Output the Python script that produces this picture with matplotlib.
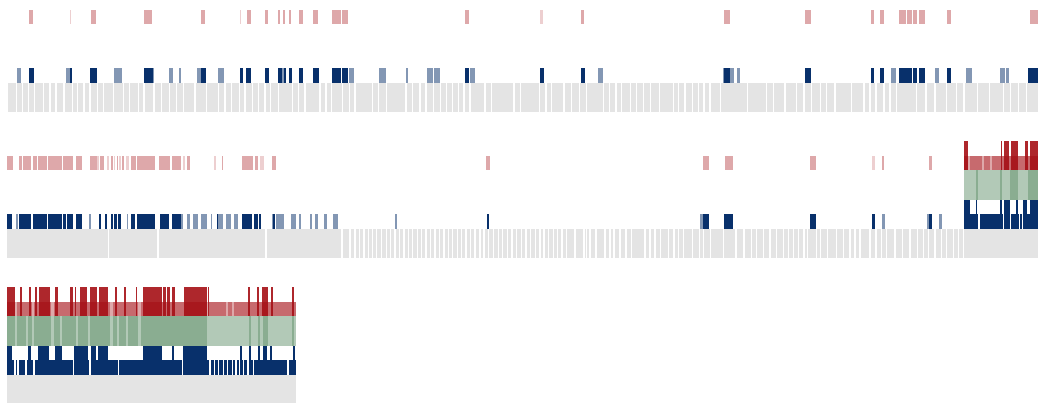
import matplotlib
matplotlib.use("Agg")
import matplotlib.pyplot as plt

# ---------------------------------------------------------------------------
# Wrapped feature tracks: three lines of sequence, each with four tracks
# (bottom to top): reference blocks (grey), blue marks, green band, red marks.
# Positions are in sequence coordinates along each line.
# ---------------------------------------------------------------------------

RED = "#a50f15"
GREEN = "#2e6e3c"
BLUE = "#08306b"
GREY = "#e4e4e4"

# ---- line 1 -------------------------------------------------------------
line1_span = (8.3, 1038.3)
line1_grey_breaks = [
    16.7, 22.7, 28.7, 34.7, 43.3, 50.0, 56.0, 64.0, 72.7, 77.7, 84.0, 90.0,
    97.3, 103.3, 113.3, 123.3, 129.3, 138.3, 144.0, 154.0, 161.7, 169.3,
    176.7, 183.3, 195.0, 206.7, 218.3, 225.0, 231.7, 239.3, 245.0, 252.7,
    258.3, 265.0, 270.7, 278.3, 292.7, 298.3, 305.0, 320.0, 326.0, 331.7,
    342.7, 349.3, 355.0, 372.3, 378.3, 386.7, 406.0, 412.7, 420.0, 426.0,
    433.3, 440.7, 446.7, 452.7, 458.3, 464.0, 470.0, 485.0, 491.7, 514.0,
    520.7, 539.3, 546.0, 551.7, 564.0, 571.7, 579.3, 586.7, 603.3, 609.3,
    616.0, 621.7, 630.7, 636.7, 643.3, 650.7, 659.3, 673.3, 678.3, 685.0,
    692.7, 698.3, 704.0, 710.0, 720.7, 747.3, 766.7, 773.3, 785.0, 796.7,
    804.0, 811.7, 820.7, 826.7, 835.0, 851.7, 864.0, 870.0, 876.0, 884.0,
    890.0, 896.7, 916.7, 926.0, 935.0, 946.7, 956.7, 964.0, 977.3, 989.3,
    1003.3, 1010.7, 1018.3, 1026.7,
]
line1_red = [
    (29.3, 33.3), (90.7, 96.0), (144.3, 151.7), (201.3, 205.0),
    (246.7, 250.7), (265.0, 267.7), (278.3, 280.0), (282.7, 285.3),
    (288.7, 291.3), (299.0, 302.7), (313.3, 318.3), (332.3, 341.0),
    (342.3, 348.3), (464.7, 468.7), (580.7, 584.0), (724.0, 730.0),
    (805.3, 811.3), (871.0, 873.7), (879.7, 884.0), (898.7, 906.0),
    (907.0, 912.0), (913.0, 916.7), (919.0, 925.0), (946.7, 950.7),
    (1029.7, 1038.3),
]
line1_red_pale = [(70.0, 71.3), (240.0, 241.3), (540.0, 543.3)]
line1_blue_dark = [
    (29.3, 34.0), (70.0, 72.0), (90.3, 96.7), (144.3, 152.7), (201.3, 205.7),
    (240.0, 242.7), (246.3, 250.7), (265.0, 268.7), (278.3, 281.7),
    (284.0, 286.0), (288.7, 291.7), (299.0, 303.3), (313.3, 319.0),
    (332.3, 341.0), (342.3, 348.3), (464.7, 469.0), (540.0, 544.0),
    (581.0, 585.0), (724.3, 730.0), (805.3, 811.3), (871.0, 874.0),
    (879.7, 884.0), (898.7, 906.7), (907.0, 912.3), (913.0, 917.3),
    (919.0, 925.0), (946.7, 951.0), (1028.3, 1038.3),
]
line1_blue_light = [
    (17.3, 20.7), (66.0, 70.7), (114.0, 122.3), (152.7, 154.0), (169.3, 173.3),
    (179.0, 181.0), (197.3, 201.3), (218.3, 224.3), (281.7, 285.3),
    (349.3, 354.0), (379.0, 386.0), (406.0, 408.0), (426.7, 432.7),
    (434.0, 440.0), (470.0, 474.7), (598.3, 603.3), (722.7, 725.0),
    (730.0, 734.3), (736.7, 740.0), (891.0, 896.0), (935.0, 939.3),
    (965.7, 971.7), (1000.3, 1005.0), (1006.3, 1009.3),
]

# ---- line 2 -------------------------------------------------------------
line2_span = (7.3, 1038.3)
line2_grey_breaks = [
    108.5, 158.0, 266.0, 342.0, 350.0, 355.0, 359.3, 364.0, 368.3, 372.3,
    376.7, 381.7, 386.7, 390.7, 395.0, 399.3, 404.0, 408.3, 412.7, 417.3,
    421.7, 426.0, 430.7, 435.0, 439.3, 444.0, 448.3, 452.7, 457.3, 461.7,
    466.0, 470.7, 475.0, 480.0, 484.0, 488.7, 493.3, 498.3, 502.7, 507.3,
    512.0, 516.7, 521.7, 526.0, 530.7, 535.3, 540.0, 544.0, 548.3, 553.3,
    557.3, 562.0, 566.7, 575.0, 584.0, 586.7, 590.0, 596.0, 605.0, 610.0,
    614.0, 620.0, 626.0, 631.7, 645.0, 650.0, 655.0, 660.7, 668.3, 674.0,
    678.3, 683.3, 692.7, 699.3, 703.3, 710.7, 723.3, 736.0, 744.0, 751.7,
    756.7, 763.3, 770.0, 776.7, 783.3, 788.7, 793.3, 798.3, 804.0, 807.3,
    816.7, 820.7, 827.3, 836.7, 843.3, 850.0, 855.0, 860.0, 870.0, 876.0,
    881.7, 886.7, 895.0, 902.7, 910.0, 917.3, 923.3, 928.3, 935.0, 941.7,
    946.7, 953.3, 958.3, 963.3,
]
line2_red = [
    (7.3, 13.3), (19.0, 22.0), (23.3, 30.7), (33.3, 36.7), (38.0, 46.7),
    (48.3, 61.7), (63.3, 66.7), (67.3, 72.7), (76.0, 81.7), (90.0, 96.7),
    (100.0, 104.0), (111.0, 112.7), (116.7, 118.0), (122.3, 124.0),
    (130.7, 136.0), (136.7, 155.0), (159.3, 170.0), (172.0, 181.0),
    (186.7, 190.0), (221.7, 223.0), (242.3, 253.3), (255.0, 258.3),
    (272.3, 275.7), (486.0, 490.0), (703.3, 709.3), (725.0, 732.7),
    (810.0, 815.7), (882.3, 884.0), (929.0, 932.3),
]
line2_red_pale = [
    (97.3, 99.3), (106.7, 109.3), (114.0, 115.3), (119.3, 120.7),
    (126.0, 128.7), (183.3, 185.0), (214.3, 215.7), (260.0, 264.3),
    (872.3, 875.0),
]
line2_blue_dark = [
    (7.3, 12.0), (19.0, 30.7), (33.3, 46.7), (48.3, 61.7), (62.7, 66.0),
    (66.7, 72.7), (76.0, 81.7), (99.3, 100.7), (105.0, 106.7), (111.0, 113.3),
    (114.3, 116.7), (118.3, 120.7), (130.7, 135.0), (136.7, 155.0),
    (160.0, 169.3), (171.7, 181.0), (216.7, 218.3), (241.7, 252.3),
    (254.3, 257.7), (259.3, 260.7), (272.7, 275.0), (486.7, 489.3),
    (703.3, 709.3), (724.3, 733.3), (810.0, 816.0), (872.3, 875.0),
    (929.3, 932.0),
]
line2_blue_light = [
    (16.0, 18.0), (89.3, 90.7), (126.7, 128.3), (181.0, 183.0), (186.7, 190.0),
    (193.3, 198.3), (201.0, 206.7), (211.0, 212.3), (218.3, 223.3),
    (225.7, 231.0), (234.3, 237.7), (271.7, 273.5), (275.7, 284.3),
    (291.0, 295.7), (299.3, 300.7), (310.0, 311.7), (315.0, 318.3),
    (324.3, 326.7), (333.3, 338.3), (395.0, 397.3), (700.0, 703.3),
    (882.3, 885.0), (926.7, 929.3), (939.3, 941.7),
]
# dense stretch at the end of line 2
line2_dense = (964.3, 1038.3)
line2_red_tall = [
    (964.3, 968.3), (1000.7, 1002.3), (1004.3, 1009.0), (1011.0, 1017.7),
    (1025.0, 1027.7), (1030.0, 1038.3),
]
line2_red_double = [(964.3, 968.0), (970.0, 981.5), (983.5, 989.5), (991.5, 1038.3)]
line2_green_double = [(975.7, 977.7), (1000.0, 1001.7), (1010.0, 1018.3), (1028.3, 1038.3)]
line2_blue_tall = [
    (964.3, 970.0), (975.7, 977.0), (1000.0, 1001.7), (1004.3, 1010.0),
    (1016.0, 1018.0), (1023.3, 1026.7), (1030.0, 1038.3),
]
line2_blue_gaps = [(978.3, 980.3), (1003.0, 1004.0), (1010.3, 1011.0), (1018.5, 1020.0), (1022.0, 1023.0)]

# ---- line 3 -------------------------------------------------------------
line3_span = (7.3, 296.0)
line3_grey_breaks = []
line3_red_tall = [
    (7.3, 15.0), (20.0, 21.7), (29.3, 31.0), (35.0, 36.7), (39.3, 50.0),
    (55.0, 58.3), (70.0, 73.3), (74.5, 76.0), (80.0, 87.0), (90.0, 96.7),
    (99.3, 108.0), (115.0, 116.7), (124.0, 126.0), (135.5, 137.0),
    (142.7, 161.7), (162.7, 166.0), (167.3, 170.0), (171.7, 175.0),
    (184.0, 206.7), (208.3, 209.3), (248.3, 250.0), (257.3, 259.3),
    (261.7, 268.3), (270.7, 272.7), (291.7, 294.0),
]
line3_red_double = [
    (7.3, 15.0), (17.0, 32.0), (34.0, 51.0), (54.0, 110.0), (113.0, 138.0),
    (141.0, 207.0), (208.5, 226.0), (228.0, 232.0), (234.0, 296.0),
]
line3_green_double = [
    (7.3, 15.0), (17.0, 26.0), (28.0, 32.0), (34.0, 51.0), (54.0, 60.0),
    (62.0, 76.0), (78.0, 88.0), (90.0, 110.0), (113.0, 117.0), (119.0, 126.0),
    (128.0, 138.0), (141.0, 207.0), (249.0, 251.0), (258.0, 260.0),
    (263.0, 268.0), (291.7, 294.0),
]
line3_blue_tall = [
    (7.3, 11.7), (28.3, 30.7), (38.3, 49.3), (55.0, 61.7), (74.0, 88.3),
    (90.7, 96.0), (98.3, 108.3), (143.3, 161.7), (171.7, 174.0),
    (183.3, 206.7), (240.0, 241.7), (249.3, 250.7), (258.3, 260.0),
    (262.7, 267.3), (270.0, 271.7), (293.3, 295.0),
]
line3_blue_gaps = [
    (14.0, 15.7), (17.3, 19.3), (25.0, 26.7), (33.3, 35.0), (72.7, 74.0),
    (89.3, 90.7), (118.3, 119.3), (143.7, 145.0), (181.7, 182.7),
    (209.3, 210.7), (214.0, 215.0), (218.3, 219.3), (222.7, 223.7),
    (226.7, 228.3), (231.7, 233.3), (235.0, 236.7), (239.3, 240.7),
    (242.7, 244.0), (247.3, 249.0), (252.7, 254.0), (286.7, 289.3),
]

# ---------------------------------------------------------------------------
fig = plt.figure(figsize=(10.41, 4.03), dpi=100)
ax = fig.add_axes([0, 0, 1, 1])
ax.set_xlim(0, 1041)
ax.set_ylim(0.034, 13.836)
ax.axis("off")

LINE_STEP = 5.0          # four tracks plus one empty track between lines
GREY_Y, BLUE_Y, GREEN_Y, RED_Y = 0.0, 1.0, 2.0, 3.0
SHORT = 0.5


def draw(intervals, y0, height, color, alpha=1.0):
    if not intervals:
        return
    ax.broken_barh([(a, b - a) for a, b in intervals], (y0, height),
                   facecolors=color, alpha=alpha, linewidth=0)


def grey_blocks(span, breaks, half_gap=0.65):
    edges = [span[0]] + list(breaks) + [span[1]]
    blocks = []
    for i in range(len(edges) - 1):
        a = edges[i] + (half_gap if i > 0 else 0)
        b = edges[i + 1] - (half_gap if i + 1 < len(edges) - 1 else 0)
        blocks.append((a, b))
    return blocks


def complement(span, gaps):
    out, cur = [], span[0]
    for a, b in sorted(gaps):
        if a > cur:
            out.append((cur, a))
        cur = max(cur, b)
    if cur < span[1]:
        out.append((cur, span[1]))
    return out


lines = [
    dict(base=2 * LINE_STEP, span=line1_span, breaks=line1_grey_breaks,
         red=line1_red, red_pale=line1_red_pale,
         blue_dark=line1_blue_dark, blue_light=line1_blue_light, dense=None),
    dict(base=1 * LINE_STEP, span=line2_span, breaks=line2_grey_breaks,
         red=line2_red, red_pale=line2_red_pale,
         blue_dark=line2_blue_dark, blue_light=line2_blue_light,
         dense=dict(span=line2_dense, red_tall=line2_red_tall,
                    red_double=line2_red_double, green_double=line2_green_double,
                    blue_tall=line2_blue_tall, blue_gaps=line2_blue_gaps)),
    dict(base=0.0, span=line3_span, breaks=line3_grey_breaks,
         red=[], red_pale=[], blue_dark=[], blue_light=[],
         dense=dict(span=line3_span, red_tall=line3_red_tall,
                    red_double=line3_red_double, green_double=line3_green_double,
                    blue_tall=line3_blue_tall, blue_gaps=line3_blue_gaps)),
]

for ln in lines:
    y = ln["base"]
    # reference blocks
    draw(grey_blocks(ln["span"], ln["breaks"]), y + GREY_Y, 1.0, GREY)
    # sparse marks
    draw(ln["red_pale"], y + RED_Y, SHORT, RED, 0.2)
    draw(ln["red"], y + RED_Y, SHORT, RED, 0.36)
    draw(ln["blue_light"], y + BLUE_Y, SHORT, BLUE, 0.5)
    draw(ln["blue_dark"], y + BLUE_Y, SHORT, BLUE, 1.0)
    # dense stretch
    d = ln["dense"]
    if d:
        span = [d["span"]]
        draw(span, y + RED_Y, SHORT, RED, 0.36)
        draw(d["red_double"], y + RED_Y, SHORT, RED, 0.4)
        draw(d["red_tall"], y + RED_Y, 1.0, RED, 0.9)
        draw(span, y + GREEN_Y, 1.0, GREEN, 0.37)
        draw(d["green_double"], y + GREEN_Y, 1.0, GREEN, 0.3)
        draw(complement(d["span"], d["blue_gaps"]), y + BLUE_Y, SHORT, BLUE, 1.0)
        draw(d["blue_tall"], y + BLUE_Y, 1.0, BLUE, 1.0)

fig.savefig("out.png", dpi=100)
